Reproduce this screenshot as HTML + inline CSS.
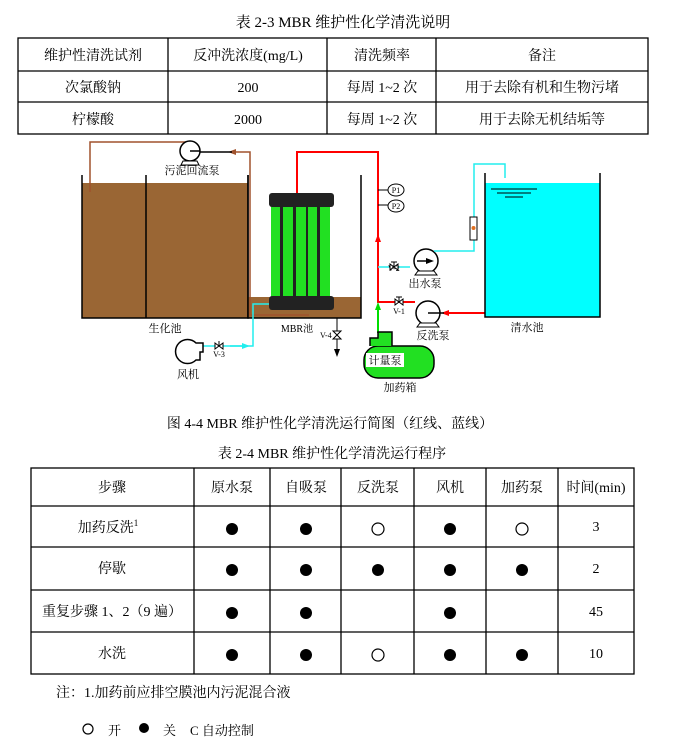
<!DOCTYPE html>
<html><head><meta charset="utf-8"><style>
html,body{margin:0;padding:0;background:#fff;width:685px;height:752px;overflow:hidden}
svg{display:block}
text{font-family:"Liberation Serif","Noto Serif CJK SC",serif;fill:#000}
</style></head><body>
<svg width="685" height="752" viewBox="0 0 685 752" xmlns="http://www.w3.org/2000/svg">
<defs>
<marker id="ar" markerWidth="8" markerHeight="8" refX="4" refY="4" orient="auto" markerUnits="userSpaceOnUse"><path d="M0,1 L8,4 L0,7z" fill="#f00"/></marker>
<marker id="ag" markerWidth="8" markerHeight="8" refX="4" refY="4" orient="auto" markerUnits="userSpaceOnUse"><path d="M0,1 L8,4 L0,7z" fill="#0d0"/></marker>
<marker id="ac" markerWidth="8" markerHeight="8" refX="4" refY="4" orient="auto" markerUnits="userSpaceOnUse"><path d="M0,1 L8,4 L0,7z" fill="#2ee"/></marker>
<marker id="ab" markerWidth="8" markerHeight="8" refX="4" refY="4" orient="auto" markerUnits="userSpaceOnUse"><path d="M0,1 L8,4 L0,7z" fill="#a0522d"/></marker>
<marker id="ak" markerWidth="8" markerHeight="8" refX="4" refY="4" orient="auto" markerUnits="userSpaceOnUse"><path d="M0,1 L8,4 L0,7z" fill="#000"/></marker>
</defs>

<!-- Table 2-3 -->
<text x="343" y="27" font-size="15" text-anchor="middle">表 2-3 MBR 维护性化学清洗说明</text>
<g stroke="#000" stroke-width="1.3" fill="none">
<rect x="18" y="38" width="630" height="96"/>
<line x1="18" y1="71" x2="648" y2="71"/><line x1="18" y1="102" x2="648" y2="102"/>
<line x1="168" y1="38" x2="168" y2="134"/><line x1="327" y1="38" x2="327" y2="134"/><line x1="436" y1="38" x2="436" y2="134"/>
</g>
<g font-size="14" text-anchor="middle">
<text x="93" y="60">维护性清洗试剂</text><text x="248" y="60">反冲洗浓度(mg/L)</text><text x="382" y="60">清洗频率</text><text x="542" y="60">备注</text>
<text x="93" y="92">次氯酸钠</text><text x="248" y="92">200</text><text x="382" y="92">每周 1~2 次</text><text x="542" y="92">用于去除有机和生物污堵</text>
<text x="93" y="124">柠檬酸</text><text x="248" y="124">2000</text><text x="382" y="124">每周 1~2 次</text><text x="542" y="124">用于去除无机结垢等</text>
</g>

<!-- Diagram -->
<!-- bio tank -->
<rect x="82" y="183" width="166" height="135" fill="#9a6634"/>
<g stroke="#000" stroke-width="1.5" fill="none">
<polyline points="82,175 82,318 248,318 248,175"/>
<line x1="146" y1="175" x2="146" y2="318"/>
</g>
<!-- MBR tank -->
<rect x="248" y="297" width="113" height="21" fill="#9a6634"/>
<polyline points="248,175 248,318 361,318 361,175" stroke="#000" stroke-width="1.5" fill="none"/>
<!-- membranes -->
<g fill="#22e022">
<rect x="271" y="205" width="9" height="93"/><rect x="283" y="205" width="10" height="93"/><rect x="296" y="205" width="10" height="93"/><rect x="308" y="205" width="9" height="93"/><rect x="320" y="205" width="10" height="93"/>
</g>
<g fill="#222">
<rect x="269" y="193" width="65" height="14" rx="3"/><rect x="269" y="296" width="65" height="14" rx="3"/>
<rect x="280" y="205" width="3" height="93"/><rect x="293" y="205" width="3" height="93"/><rect x="306" y="205" width="2" height="93"/><rect x="317" y="205" width="3" height="93"/>
</g>
<!-- sludge return brown -->
<polyline points="90,192 90,142 188,142" stroke="#a0522d" stroke-width="1.5" fill="none"/>
<polyline points="309,315 250,315 250,152 232,152" stroke="#a0522d" stroke-width="1.5" fill="none" marker-end="url(#ab)"/>
<line x1="232" y1="152" x2="198" y2="152" stroke="#000" stroke-width="1.5"/>
<circle cx="190" cy="151" r="10" fill="#fff" stroke="#000" stroke-width="1.5"/>
<path d="M183,161 L197,161 L199,165 L181,165z" fill="#fff" stroke="#000"/>
<line x1="190" y1="151" x2="200" y2="151" stroke="#000" stroke-width="1.5"/>
<text x="192" y="174" font-size="11" text-anchor="middle">污泥回流泵</text>

<!-- red line -->
<polyline points="297,193 297,152 378,152 378,302 415,302" stroke="#f00" stroke-width="2" fill="none"/>
<line x1="378" y1="250" x2="378" y2="238" stroke="#f00" stroke-width="2" marker-end="url(#ar)"/>
<line x1="485" y1="313" x2="445" y2="313" stroke="#f00" stroke-width="2" marker-end="url(#ar)"/>
<!-- P1 P2 -->
<line x1="378" y1="190" x2="388" y2="190" stroke="#000"/><line x1="378" y1="205" x2="388" y2="205" stroke="#000"/>
<ellipse cx="396" cy="190" rx="8" ry="6" fill="#fff" stroke="#000"/><ellipse cx="396" cy="206" rx="8" ry="6" fill="#fff" stroke="#000"/>
<text x="396" y="193" font-size="8" text-anchor="middle">P1</text><text x="396" y="209" font-size="8" text-anchor="middle">P2</text>
<!-- V-1 and backwash pump -->
<path d="M395,299 L403,305 L403,299 L395,305z" fill="#fff" stroke="#000"/><line x1="399" y1="302" x2="399" y2="297" stroke="#000"/><line x1="396" y1="297" x2="402" y2="297" stroke="#000"/>
<text x="399" y="314" font-size="8" text-anchor="middle">V-1</text>
<circle cx="428" cy="313" r="12" fill="#fff" stroke="#000" stroke-width="1.5"/>
<line x1="428" y1="313" x2="444" y2="313" stroke="#000" stroke-width="1.5"/>
<path d="M420,323 L436,323 L439,327 L417,327z" fill="#fff" stroke="#000"/>
<text x="433" y="339" font-size="11" text-anchor="middle">反洗泵</text>
<!-- outflow pump cyan -->
<line x1="378" y1="267" x2="390" y2="267" stroke="#2ee" stroke-width="1.5"/>
<path d="M390,264 L398,270 L398,264 L390,270z" fill="#fff" stroke="#000"/><line x1="394" y1="267" x2="394" y2="262" stroke="#000"/><line x1="391" y1="262" x2="397" y2="262" stroke="#000"/>
<line x1="398" y1="267" x2="410" y2="267" stroke="#2ee" stroke-width="1.5"/>
<text x="388" y="271" font-size="8">V-2</text>
<circle cx="426" cy="261" r="12" fill="#fff" stroke="#000" stroke-width="1.5"/>
<line x1="417" y1="261" x2="430" y2="261" stroke="#000" stroke-width="1.5" marker-end="url(#ak)"/>
<path d="M418,271 L434,271 L437,275 L415,275z" fill="#fff" stroke="#000"/>
<polyline points="434,251 474,251 474,164 505,164 505,178" stroke="#2ee" stroke-width="1.5" fill="none"/>
<rect x="470" y="217" width="7" height="23" fill="#fff" stroke="#000"/><circle cx="473.5" cy="228" r="2" fill="#e07020"/>
<text x="425" y="287" font-size="11" text-anchor="middle">出水泵</text>
<!-- clean tank -->
<rect x="485" y="183" width="115" height="134" fill="#00ffff"/>
<polyline points="485,173 485,317 600,317 600,173" stroke="#000" stroke-width="1.5" fill="none"/>
<line x1="491" y1="189" x2="537" y2="189" stroke="#000"/><line x1="497" y1="193" x2="531" y2="193" stroke="#000"/><line x1="505" y1="197" x2="523" y2="197" stroke="#000"/>
<text x="527" y="331" font-size="11" text-anchor="middle">清水池</text>
<!-- labels -->
<text x="165" y="332" font-size="11" text-anchor="middle">生化池</text>
<text x="297" y="332" font-size="10" text-anchor="middle">MBR池</text>
<!-- V-4 -->
<line x1="337" y1="318" x2="337" y2="353" stroke="#000" marker-end="url(#ak)"/>
<path d="M333,331 L341,339 L333,339 L341,331z" fill="#fff" stroke="#000"/>
<text x="320" y="338" font-size="8">V-4</text>
<!-- air line -->
<polyline points="203,346 253,346 253,304 269,304" stroke="#2ee" stroke-width="1.5" fill="none"/>
<line x1="230" y1="346" x2="246" y2="346" stroke="#2ee" stroke-width="1.5" marker-end="url(#ac)"/>
<path d="M215,343 L223,349 L223,343 L215,349z" fill="#fff" stroke="#000"/><line x1="219" y1="346" x2="219" y2="341" stroke="#000"/>
<text x="219" y="357" font-size="8" text-anchor="middle">V-3</text>
<path d="M203,343 L196,343 A12,12 0 1 0 196,360 L200,360 L200,352 L203,352z" fill="#fff" stroke="#000" stroke-width="1.5"/>
<text x="188" y="378" font-size="11" text-anchor="middle">风机</text>
<!-- dosing -->
<line x1="378" y1="333" x2="378" y2="306" stroke="#0d0" stroke-width="2" marker-end="url(#ag)"/>
<rect x="364" y="346" width="70" height="32" rx="14" fill="#22e022" stroke="#000" stroke-width="1.5"/>
<path d="M370,346 L370,338 L378,338 L378,332 L392,332 L392,346" fill="#22e022" stroke="#000" stroke-width="1.5"/>
<rect x="366" y="353" width="38" height="14" fill="#fff"/>
<text x="385" y="364" font-size="11" text-anchor="middle">计量泵</text>
<text x="400" y="391" font-size="11" text-anchor="middle">加药箱</text>

<!-- captions -->
<text x="330" y="428" font-size="14" text-anchor="middle">图 4-4    MBR 维护性化学清洗运行简图（红线、蓝线）</text>
<text x="332" y="458" font-size="14" text-anchor="middle">表 2-4    MBR 维护性化学清洗运行程序</text>

<!-- Table 2-4 -->
<g stroke="#000" stroke-width="1.3" fill="none">
<rect x="31" y="468" width="603" height="206"/>
<line x1="31" y1="506" x2="634" y2="506"/><line x1="31" y1="547" x2="634" y2="547"/><line x1="31" y1="590" x2="634" y2="590"/><line x1="31" y1="632" x2="634" y2="632"/>
<line x1="194" y1="468" x2="194" y2="674"/><line x1="270" y1="468" x2="270" y2="674"/><line x1="341" y1="468" x2="341" y2="674"/><line x1="414" y1="468" x2="414" y2="674"/><line x1="486" y1="468" x2="486" y2="674"/><line x1="558" y1="468" x2="558" y2="674"/>
</g>
<g font-size="14" text-anchor="middle">
<text x="112" y="492">步骤</text><text x="232" y="492">原水泵</text><text x="306" y="492">自吸泵</text><text x="378" y="492">反洗泵</text><text x="450" y="492">风机</text><text x="522" y="492">加药泵</text><text x="596" y="492">时间(min)</text>
<text x="108" y="532">加药反洗<tspan font-size="9" dy="-6">1</tspan></text><text x="596" y="531">3</text>
<text x="112" y="573">停歇</text><text x="596" y="573">2</text>
<text x="112" y="616">重复步骤 1、2（9 遍）</text><text x="596" y="616">45</text>
<text x="112" y="658">水洗</text><text x="596" y="658">10</text>
</g>
<g fill="#000">
<circle cx="232" cy="529" r="6"/><circle cx="306" cy="529" r="6"/><circle cx="450" cy="529" r="6"/>
<circle cx="232" cy="570" r="6"/><circle cx="306" cy="570" r="6"/><circle cx="378" cy="570" r="6"/><circle cx="450" cy="570" r="6"/><circle cx="522" cy="570" r="6"/>
<circle cx="232" cy="613" r="6"/><circle cx="306" cy="613" r="6"/><circle cx="450" cy="613" r="6"/>
<circle cx="232" cy="655" r="6"/><circle cx="306" cy="655" r="6"/><circle cx="450" cy="655" r="6"/><circle cx="522" cy="655" r="6"/>
</g>
<g fill="none" stroke="#000" stroke-width="1.2">
<circle cx="378" cy="529" r="6"/><circle cx="522" cy="529" r="6"/><circle cx="378" cy="655" r="6"/>
</g>
<text x="56" y="697" font-size="14">注：1.加药前应排空膜池内污泥混合液</text>
<circle cx="88" cy="729" r="5" fill="none" stroke="#000" stroke-width="1.2"/>
<text x="108" y="735" font-size="13">开</text>
<circle cx="144" cy="728" r="5" fill="#000"/>
<text x="163" y="735" font-size="13">关</text>
<text x="190" y="735" font-size="13">C  自动控制</text>
</svg>
</body></html>
